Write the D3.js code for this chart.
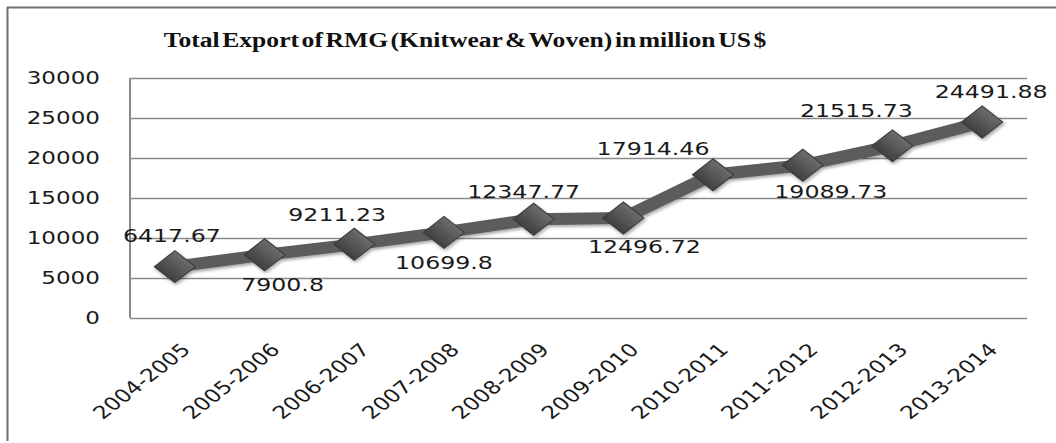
<!DOCTYPE html>
<html>
<head>
<meta charset="utf-8">
<script src="https://cdn.jsdelivr.net/npm/d3@7"></script>
<style>
  html, body { margin: 0; padding: 0; background: #fff; }
  svg { display: block; }
</style>
</head>
<body>
<div id="chart"></div>
<script>
// Fiscal years on the category axis
const categories = [
  "2004-2005", "2005-2006", "2006-2007", "2007-2008", "2008-2009",
  "2009-2010", "2010-2011", "2011-2012", "2012-2013", "2013-2014"
];
// Total RMG export, million US$
const exportValues = [
  6417.67, 7900.8, 9211.23, 10699.8, 12347.77,
  12496.72, 17914.46, 19089.73, 21515.73, 24491.88
];
// Value-axis ticks
const yTicks = [0, 5000, 10000, 15000, 20000, 25000, 30000];
const titleText = "Total Export of RMG (Knitwear & Woven) in million US $";

// Label nudges (screen px) for each data label: [dx, baseline dy]
const labelNudge = [
  [-3, -25], [18, 36], [-17, -23], [0, 37], [-10, -21],
  [21, 35], [-60, -20], [28, 33], [-36, -29], [9, -24]
];

const WIDTH = 1056, HEIGHT = 443;
const SX = 1.28;                 // horizontal stretch of the drawing
const plotLeft = 130 / SX, plotRight = 1027 / SX;
const plotTop = 78, plotBottom = 318;

const svg = d3.select("#chart").append("svg")
  .attr("width", WIDTH).attr("height", HEIGHT);

const defs = svg.append("defs");
const grad = defs.append("linearGradient").attr("id", "mk")
  .attr("x1", 0).attr("y1", 0).attr("x2", 0).attr("y2", 1);
grad.append("stop").attr("offset", "0%").attr("stop-color", "#6c6c6c");
grad.append("stop").attr("offset", "55%").attr("stop-color", "#545454");
grad.append("stop").attr("offset", "100%").attr("stop-color", "#404040");
const sh = defs.append("filter").attr("id", "shadow")
  .attr("x", "-20%").attr("y", "-40%").attr("width", "140%").attr("height", "180%");
sh.append("feDropShadow").attr("dx", 1).attr("dy", 2).attr("stdDeviation", 1.6)
  .attr("flood-color", "#000").attr("flood-opacity", 0.35);

// Outer frame (top and left edges)
svg.append("line").attr("x1", 7).attr("x2", WIDTH).attr("y1", 7.5).attr("y2", 7.5)
  .attr("stroke", "#6f6f6f").attr("stroke-width", 2);
svg.append("line").attr("x1", 7.5).attr("x2", 7.5).attr("y1", 7).attr("y2", 441)
  .attr("stroke", "#6f6f6f").attr("stroke-width", 2);

const g = svg.append("g").attr("transform", `scale(${SX},1)`);

const x = d3.scaleBand().domain(categories).range([plotLeft, plotRight]);
const y = d3.scaleLinear().domain([0, 30000]).range([plotBottom, plotTop]);
const cx = c => x(c) + x.bandwidth() / 2;

// Title
g.append("text")
  .attr("x", 465 / SX).attr("y", 47)
  .attr("text-anchor", "middle")
  .attr("font-family", "'Liberation Serif', 'Times New Roman', serif")
  .attr("font-weight", "bold")
  .attr("font-size", 20)
  .attr("word-spacing", -3)
  .attr("fill", "#111")
  .text(titleText);

// Value axis with gridlines
const yAxis = g.append("g")
  .attr("transform", `translate(${plotLeft},0)`)
  .call(d3.axisLeft(y).tickValues(yTicks).tickFormat(d3.format("d"))
    .tickSize(-(plotRight - plotLeft)).tickPadding(23.5));
yAxis.select(".domain").remove();
yAxis.selectAll(".tick line")
  .attr("stroke", "#8a8a8a").attr("stroke-width", 1.6);
yAxis.selectAll(".tick text")
  .attr("font-family", "'DejaVu Sans', Verdana, sans-serif")
  .attr("font-size", 18).attr("fill", "#1a1a1a");

// Left axis line
g.append("line")
  .attr("x1", plotLeft).attr("x2", plotLeft)
  .attr("y1", y(30000)).attr("y2", y(0))
  .attr("stroke", "#8a8a8a").attr("stroke-width", 1.6);

// Category axis labels, rotated
const xAxis = g.append("g")
  .attr("transform", `translate(0,${plotBottom})`)
  .call(d3.axisBottom(x).tickSize(0));
xAxis.select(".domain").remove();
xAxis.selectAll(".tick text")
  .attr("x", 0).attr("y", 0).attr("dy", 0)
  .attr("text-anchor", "end")
  .attr("transform", "translate(13,33) rotate(-45)")
  .attr("font-family", "'DejaVu Sans', Verdana, sans-serif")
  .attr("font-size", 18).attr("fill", "#1a1a1a");

// Series line and diamond markers
const series = categories.map((c, i) => ({ c, v: exportValues[i], i }));
const lineGen = d3.line().x(d => cx(d.c)).y(d => y(d.v));

const seriesG = g.append("g").attr("filter", "url(#shadow)");
seriesG.append("path")
  .datum(series)
  .attr("d", lineGen)
  .attr("fill", "none")
  .attr("stroke", "#5b5b5b")
  .attr("stroke-width", 12)
  .attr("stroke-linejoin", "round");

const diamond = d3.symbol().type(d3.symbolSquare).size(512);
seriesG.selectAll("path.mk")
  .data(series)
  .join("path")
  .attr("class", "mk")
  .attr("d", diamond)
  .attr("transform", d => `translate(${cx(d.c)},${y(d.v)}) rotate(45)`)
  .attr("fill", "url(#mk)")
  .attr("stroke", "#3c3c3c")
  .attr("stroke-width", 1);

// Data labels
g.selectAll("text.lbl")
  .data(series)
  .join("text")
  .attr("class", "lbl")
  .attr("x", d => cx(d.c) + labelNudge[d.i][0] / SX)
  .attr("y", d => y(d.v) + labelNudge[d.i][1])
  .attr("text-anchor", "middle")
  .attr("font-family", "'DejaVu Sans', Verdana, sans-serif")
  .attr("font-size", 18.5)
  .attr("fill", "#1a1a1a")
  .text(d => String(d.v));
</script>
</body>
</html>
